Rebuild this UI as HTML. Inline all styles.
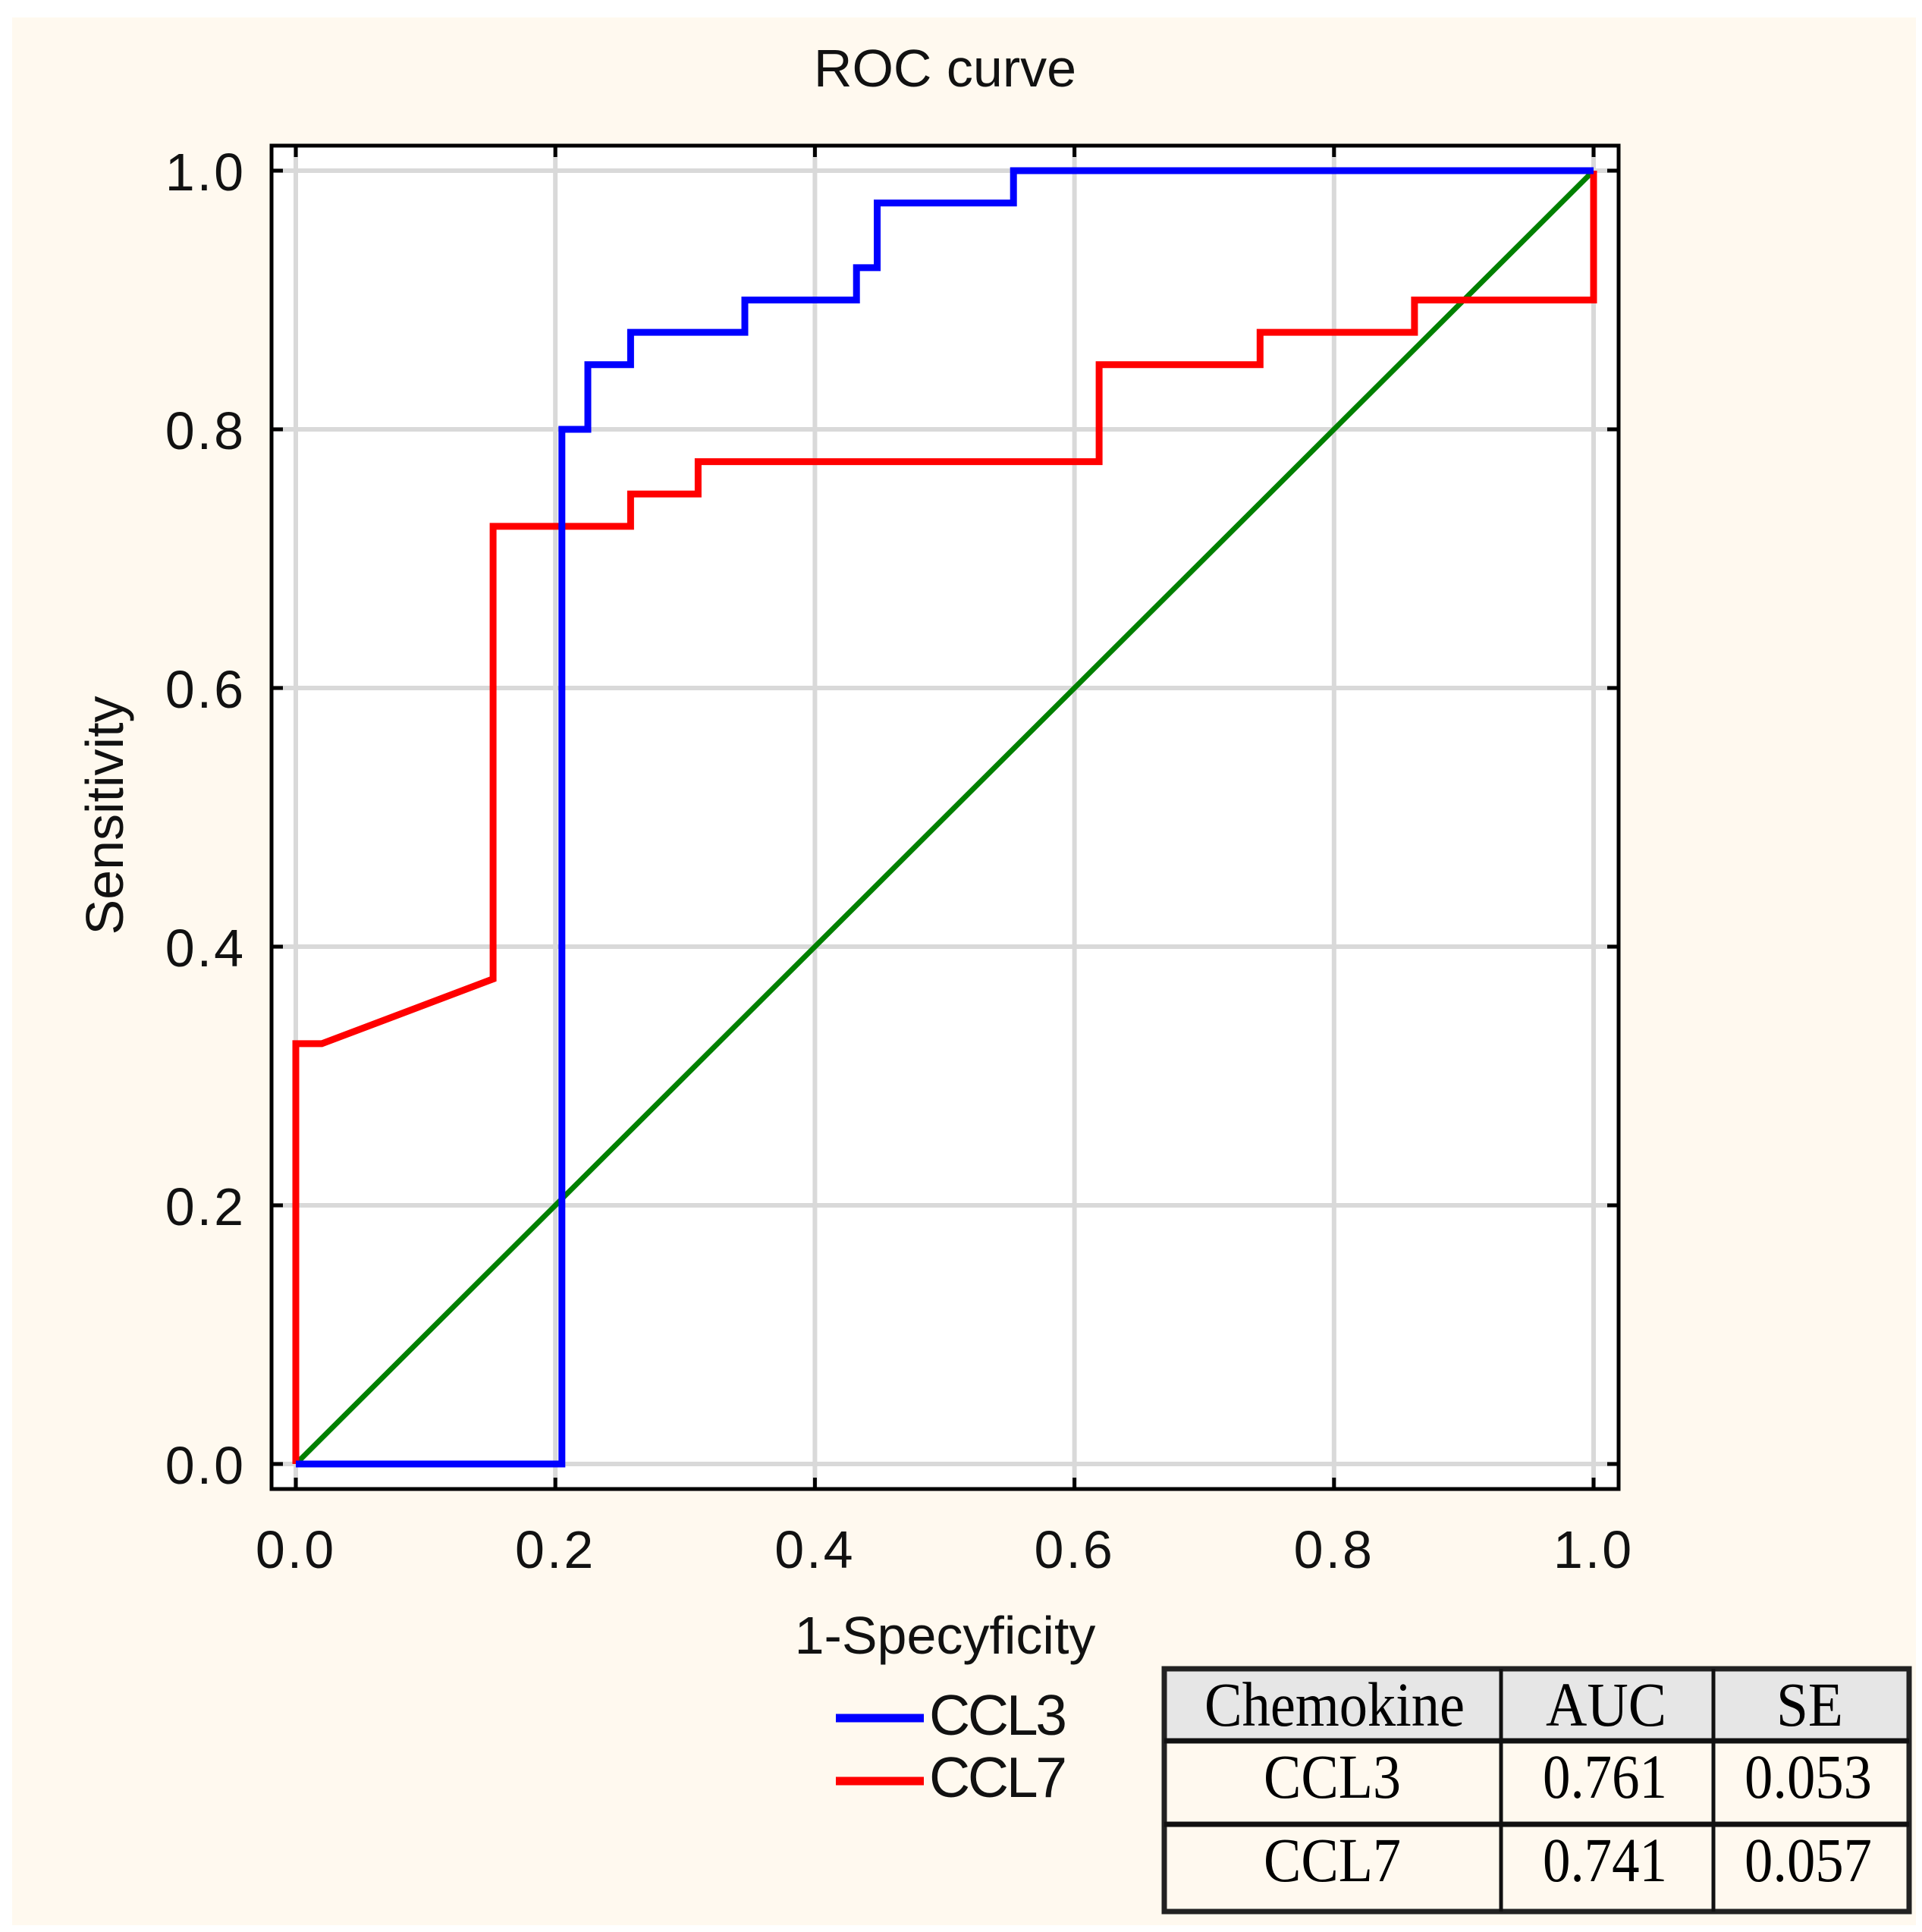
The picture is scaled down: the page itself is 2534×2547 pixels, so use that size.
<!DOCTYPE html>
<html><head><meta charset="utf-8"><style>
html,body{margin:0;padding:0;background:#fff}
svg{display:block}
text{font-family:"Liberation Sans",sans-serif}
.serif{font-family:"Liberation Serif",serif}
</style></head><body>
<svg id="chart" width="2534" height="2547" viewBox="0 0 2534 2547" xmlns="http://www.w3.org/2000/svg">
<rect x="16" y="23" width="2510" height="2515" fill="#fff9ef"/>
<text x="1246" y="114" font-size="70" text-anchor="middle" fill="#111">ROC curve</text>
<rect x="358" y="192" width="1776" height="1771" fill="#fff"/>
<g id="grid"></g>
<g id="series"></g>
<rect x="358" y="192" width="1776" height="1771" fill="none" stroke="#000" stroke-width="5"/>
<g id="ticks"></g>
<text transform="translate(162,1075) rotate(-90)" font-size="70" text-anchor="middle" fill="#111">Sensitivity</text>
<text x="1246" y="2180" font-size="70" text-anchor="middle" fill="#111">1-Specyficity</text>
<g>
<line x1="1102" y1="2265" x2="1218" y2="2265" stroke="#0000ff" stroke-width="11"/>
<text x="1225" y="2287" font-size="75" fill="#111" textLength="182">CCL3</text>
<line x1="1102" y1="2348" x2="1218" y2="2348" stroke="#ff0000" stroke-width="11"/>
<text x="1225" y="2369" font-size="75" fill="#111" textLength="182">CCL7</text>
</g>
<g>
<rect x="1535" y="2200" width="982" height="95" fill="#e6e6e6"/>
<rect x="1535" y="2295" width="982" height="225" fill="#fff9ef"/>
<rect x="1535" y="2200" width="982" height="320" fill="none" stroke="#222" stroke-width="7"/>
<line x1="1535" y1="2295" x2="2517" y2="2295" stroke="#111" stroke-width="7"/>
<line x1="1535" y1="2405" x2="2517" y2="2405" stroke="#111" stroke-width="7"/>
<line x1="1979" y1="2200" x2="1979" y2="2520" stroke="#111" stroke-width="5"/>
<line x1="2259" y1="2200" x2="2259" y2="2520" stroke="#111" stroke-width="5"/>
<text class="serif" x="1588" y="2275" font-size="83" textLength="343" lengthAdjust="spacingAndGlyphs">Chemokine</text>
<text class="serif" x="2038" y="2275" font-size="83" textLength="159" lengthAdjust="spacingAndGlyphs">AUC</text>
<text class="serif" x="2342" y="2275" font-size="83" textLength="88" lengthAdjust="spacingAndGlyphs">SE</text>
<text class="serif" x="1666" y="2370" font-size="83" textLength="181" lengthAdjust="spacingAndGlyphs">CCL3</text>
<text class="serif" x="2034" y="2370" font-size="83" textLength="164" lengthAdjust="spacingAndGlyphs">0.761</text>
<text class="serif" x="2300" y="2370" font-size="83" textLength="168" lengthAdjust="spacingAndGlyphs">0.053</text>
<text class="serif" x="1666" y="2480" font-size="83" textLength="181" lengthAdjust="spacingAndGlyphs">CCL7</text>
<text class="serif" x="2034" y="2480" font-size="83" textLength="164" lengthAdjust="spacingAndGlyphs">0.741</text>
<text class="serif" x="2300" y="2480" font-size="83" textLength="168" lengthAdjust="spacingAndGlyphs">0.057</text>
</g>
</svg>
<script>
const tickValues = [0, 0.2, 0.4, 0.6, 0.8, 1.0];
const tickLabels = ["0.0", "0.2", "0.4", "0.6", "0.8", "1.0"];
const ccl3X = [0, 0.205, 0.205, 0.225, 0.225, 0.258, 0.258, 0.346, 0.346, 0.432, 0.432, 0.448, 0.448, 0.553, 0.553, 1.0];
const ccl3Y = [0, 0, 0.8, 0.8, 0.85, 0.85, 0.875, 0.875, 0.9, 0.9, 0.925, 0.925, 0.975, 0.975, 1.0, 1.0];
const ccl7X = [0, 0, 0.02, 0.152, 0.152, 0.258, 0.258, 0.31, 0.31, 0.619, 0.619, 0.743, 0.743, 0.862, 0.862, 1.0, 1.0];
const ccl7Y = [0, 0.325, 0.325, 0.375, 0.725, 0.725, 0.75, 0.75, 0.775, 0.775, 0.85, 0.85, 0.875, 0.875, 0.9, 0.9, 1.0];
const refX = [0, 1];
const refY = [0, 1];

const NS = "http://www.w3.org/2000/svg";
const xs = v => 390 + v * 1711;
const ys = v => 1930 - v * 1705;
function mk(tag, attrs, parent) {
  const e = document.createElementNS(NS, tag);
  for (const k in attrs) e.setAttribute(k, attrs[k]);
  parent.appendChild(e);
  return e;
}
const grid = document.getElementById("grid");
const ticks = document.getElementById("ticks");
tickValues.forEach((v, i) => {
  const gx = mk("line", {x1: xs(v), y1: 192, x2: xs(v), y2: 1963, stroke: "#d9d9d9", "stroke-width": 6}, grid);
  
  
  const gy = mk("line", {x1: 358, y1: ys(v), x2: 2134, y2: ys(v), stroke: "#d9d9d9", "stroke-width": 6}, grid);
  
  
  [[xs(v), 192, xs(v), 207], [xs(v), 1963, xs(v), 1948]].forEach(c => {
    const t = mk("line", {x1: c[0], y1: c[1], x2: c[2], y2: c[3], stroke: "#000", "stroke-width": 5}, ticks);
    
    
  });
  [[358, ys(v), 373, ys(v)], [2134, ys(v), 2119, ys(v)]].forEach(c => {
    const t = mk("line", {x1: c[0], y1: c[1], x2: c[2], y2: c[3], stroke: "#000", "stroke-width": 5}, ticks);
    
    
  });
  const lx = mk("text", {x: xs(v), y: 2067, "font-size": 70, "letter-spacing": 3, "text-anchor": "middle", fill: "#111"}, ticks);
  lx.textContent = tickLabels[i];
  
  
  const ly = mk("text", {x: 324, y: ys(v) + 26, "font-size": 70, "letter-spacing": 3, "text-anchor": "end", fill: "#111"}, ticks);
  ly.textContent = tickLabels[i];
  
  
});
const series = document.getElementById("series");
function pts(X, Y) { return X.map((x, i) => xs(x).toFixed(1) + "," + ys(Y[i]).toFixed(1)).join(" "); }
const ref = mk("polyline", {points: pts(refX, refY), fill: "none", stroke: "#008000", "stroke-width": 7}, series);


const c7 = mk("polyline", {points: pts(ccl7X, ccl7Y), fill: "none", stroke: "#ff0000", "stroke-width": 9, "stroke-linejoin": "miter"}, series);


const c3 = mk("polyline", {points: pts(ccl3X, ccl3Y), fill: "none", stroke: "#0000ff", "stroke-width": 9, "stroke-linejoin": "miter"}, series);


</script>
</body></html>
